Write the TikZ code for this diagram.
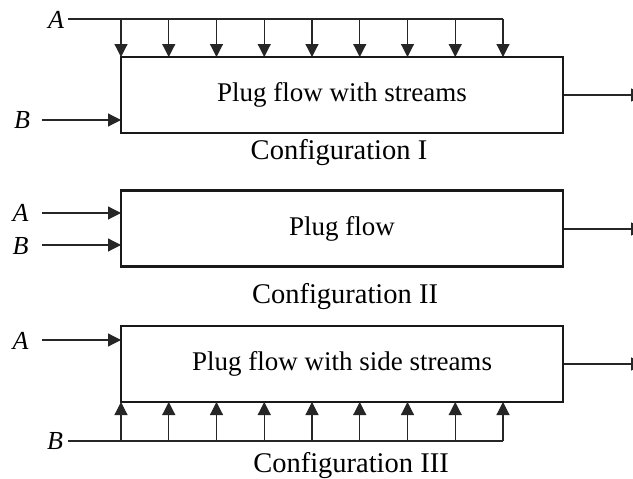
\documentclass[tikz,border=0pt]{standalone}
\usepackage{fontspec}
\setmainfont{Liberation Serif}
\usetikzlibrary{arrows.meta}
\begin{document}
\begin{tikzpicture}[x=1pt,y=-1pt,
  box/.style={draw=black!90, line width=2.4pt, minimum width=442pt, minimum height=76pt, inner sep=0pt, font=\fontsize{27}{32}\selectfont},
  feed/.style={draw=black!85, line width=1.2pt, -{Triangle[length=13pt,width=13pt]}},
  lbl/.style={font=\fontsize{26}{30}\selectfont\itshape, inner sep=0pt},
  conf/.style={font=\fontsize{28.5}{32}\selectfont, inner sep=0pt, anchor=base},
  hline/.style={draw=black!85, line width=1.2pt}]
\useasboundingbox (0,0) rectangle (633,479);
% Configuration I
\node[box] (b1) at (342,95) {Plug flow with streams};
\node[conf] (c1) at (339,159) {Configuration I};
\node[lbl] (a1) at (56,20) {A};
\node[lbl] (bl1) at (22,120) {B};
\coordinate (a1s) at (68,19);
\coordinate (a1e) at (503,19);
\draw[hline] (a1s) -- (a1e);
\foreach \i in {0,...,8} {
  \coordinate (t\i) at ({121+\i*47.75},19);
  \coordinate (u\i) at ({121+\i*47.75},57);
  \draw[feed] (t\i) -- (u\i);
}
\coordinate (bs1) at (42,120);
\coordinate (be1) at (121,120);
\draw[feed] (bs1) -- (be1);
\coordinate (o1) at (644,95);
\draw[feed] (b1.east) -- (o1);
% Configuration II
\node[box] (b2) at (342,228.5) {Plug flow};
\node[conf] (c2) at (345,303) {Configuration II};
\node[lbl] (a2) at (20.5,213) {A};
\node[lbl] (bl2) at (20.5,246) {B};
\coordinate (as2) at (42,213);
\coordinate (ae2) at (121,213);
\coordinate (bs2) at (42,245);
\coordinate (be2) at (121,245);
\draw[feed] (as2) -- (ae2);
\draw[feed] (bs2) -- (be2);
\coordinate (o2) at (644,229);
\draw[feed] (b2.east |- o2) -- (o2);
% Configuration III
\node[box] (b3) at (342,364) {Plug flow with side streams};
\node[conf] (c3) at (351,472) {Configuration III};
\node[lbl] (a3) at (20.5,341) {A};
\node[lbl] (bl3) at (55,441) {B};
\coordinate (as3) at (42,340);
\coordinate (ae3) at (121,340);
\draw[feed] (as3) -- (ae3);
\coordinate (bs3) at (68,441);
\coordinate (be3) at (503,441);
\draw[hline] (bs3) -- (be3);
\foreach \i in {0,...,8} {
  \coordinate (p\i) at ({121+\i*47.75},441);
  \coordinate (q\i) at ({121+\i*47.75},402);
  \draw[feed] (p\i) -- (q\i);
}
\coordinate (o3) at (644,364);
\draw[feed] (b3.east) -- (o3);
\end{tikzpicture}
\end{document}
